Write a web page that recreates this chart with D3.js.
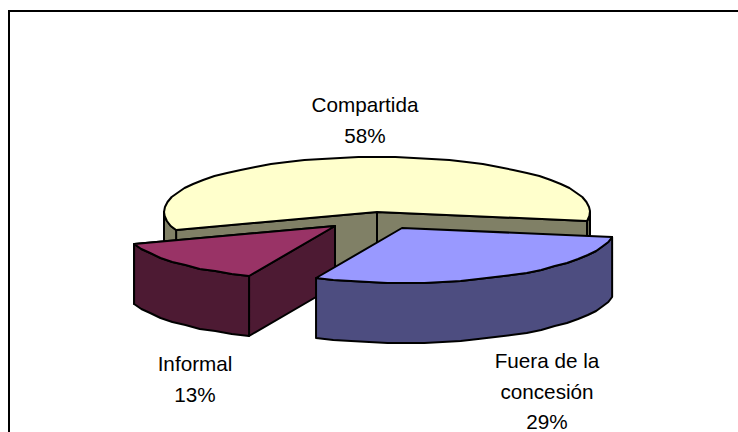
<!DOCTYPE html>
<html><head><meta charset="utf-8">
<script src="https://cdn.jsdelivr.net/npm/d3@7/dist/d3.min.js"></script>
<style>html,body{margin:0;padding:0;background:#fff;overflow:hidden}svg{display:block}</style></head>
<body><svg id="c" width="738" height="432"></svg>
<script>
const categories = ["Compartida","Fuera de la concesión","Informal"];
const values = [58,29,13];
const labelLines = [["Compartida","58%"],["Fuera de la","concesión","29%"],["Informal","13%"]];
const topColors = ["#FFFFCC","#9999FF","#993366"];
const sideColors = ["#808066","#4D4D80","#4D1A33"];
const explodeX = [0,25,-42];
const explodeY = [0,16,14];
const labelX = [365,547,195];
const labelY = [112,368,371];
const svg=d3.select("#c");
svg.append("rect").attr("x",9).attr("y",11).attr("width",760).attr("height",460).attr("fill","#fff").attr("stroke","#000").attr("stroke-width",2);
const cx=377,cy=212,rx=213,ry=55,depth=60;
const sx=d3.scaleLinear().domain([-1,1]).range([cx-rx,cx+rx]);
const sy=d3.scaleLinear().domain([-1,1]).range([cy+ry,cy-ry]);
const pie=d3.pie().sort(null).startAngle(250.6*Math.PI/180).endAngle((250.6+360)*Math.PI/180);
const arcs=pie(values);
const STEP=5*Math.PI/180;
function samples(a0,a1){const n=Math.max(1,Math.round((a1-a0)/STEP));return d3.range(n+1).map(i=>a0+(a1-a0)*i/n);}
function pt(a,i,dz){return [sx(Math.sin(a))+explodeX[i],Math.round(sy(Math.cos(a)))+explodeY[i]+(dz||0)];}
function apex(i,dz){return [sx(0)+explodeX[i],sy(0)+explodeY[i]+(dz||0)];}
const line=d3.line().curve(d3.curveLinearClosed);
function poly(p,fill){svg.append("path").attr("d",line(p)).attr("fill",fill).attr("stroke","#000").attr("stroke-width",2).attr("stroke-linejoin","round");}
function wall(a0,a1,i){const s=samples(a0,a1);poly(s.map(a=>pt(a,i)).concat(s.slice().reverse().map(a=>pt(a,i,depth))),sideColors[i]);}
function face(a,i){poly([apex(i),pt(a,i),pt(a,i,depth),apex(i,depth)],sideColors[i]);}
function front(a0,a1,i){
  const T=2*Math.PI;
  [[Math.PI/2,3*Math.PI/2],[Math.PI/2+T,3*Math.PI/2+T]].forEach(([f0,f1])=>{
    const u0=Math.max(a0,f0),u1=Math.min(a1,f1);if(u1>u0)wall(u0,u1,i);});
}
function topFace(a0,a1,i){poly([apex(i)].concat(samples(a0,a1).map(a=>pt(a,i))),topColors[i]);}
[0,2,1].forEach(i=>{const d=arcs[i];
  if(i===0){face(d.startAngle,i);face(d.endAngle,i);front(d.startAngle,d.endAngle,i);}
  if(i===2){face(d.endAngle,i);face(d.startAngle,i);front(d.startAngle,d.endAngle,i);}
  if(i===1){front(d.startAngle,d.endAngle,i);}
  topFace(d.startAngle,d.endAngle,i);
});
labelLines.forEach((ls,i)=>{
  ls.forEach((t,j)=>{
    svg.append("text").attr("x",labelX[i]).attr("y",labelY[i]+j*30.5).attr("text-anchor","middle")
      .attr("font-family","'Liberation Sans',Arial,sans-serif").attr("font-size",20.7).attr("fill","#000").text(t);
  });
});
</script></body></html>
